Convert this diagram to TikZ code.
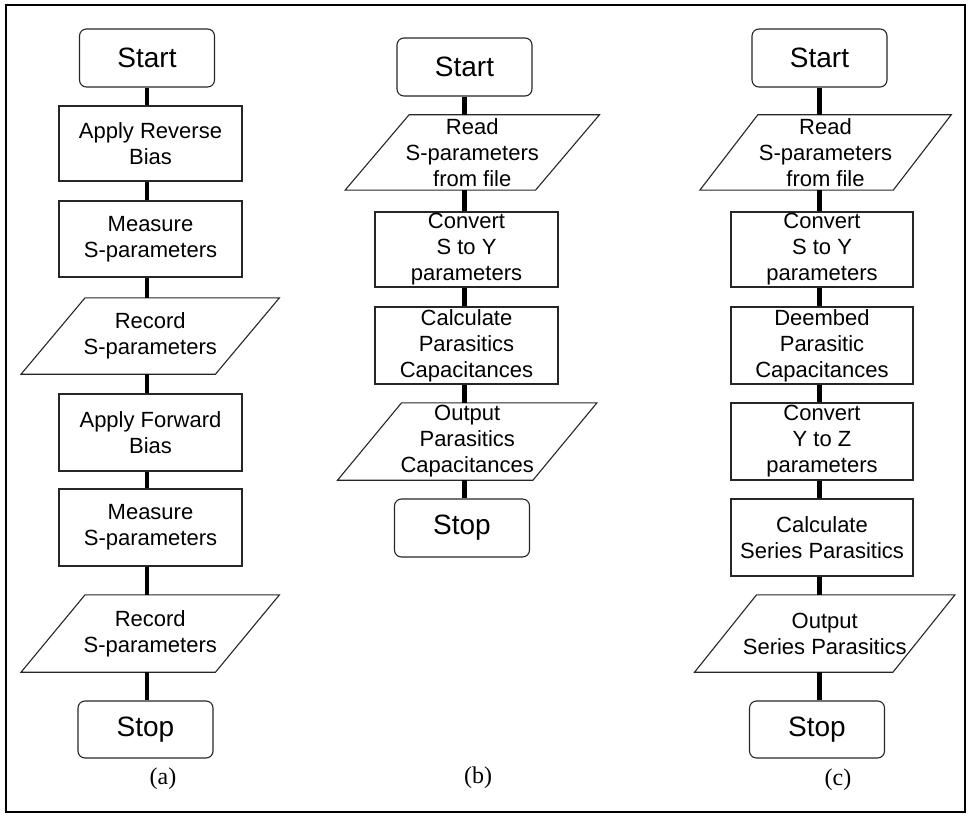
\documentclass[tikz,border=0pt]{standalone}
\usepackage{fontspec}
\setmainfont{Liberation Sans}
\newfontfamily\capfont{Liberation Serif}
\usetikzlibrary{calc}
\newcommand\ioshape[2]{%
  \draw[boxline] ([xshift=#2]#1.north west) -- ([xshift=#2]#1.north east) -- ([xshift=-#2]#1.south east) -- ([xshift=-#2]#1.south west) -- cycle;}
\begin{document}
\begin{tikzpicture}[x=1pt,y=-1pt,
  boxline/.style={line width=1.1pt, draw=black!85},
  term/.style={boxline, rounded corners=7pt, inner sep=0pt, minimum width=135pt, minimum height=58pt, font=\fontsize{28}{30}\selectfont},
  proc/.style={boxline, inner sep=0pt, align=center, minimum width=183pt, minimum height=76pt, font=\fontsize{22}{26}\selectfont},
  io/.style={inner sep=0pt, align=center, minimum width=194pt, minimum height=76pt, font=\fontsize{22}{26}\selectfont},
  link/.style={line width=4.5pt},
  sublabel/.style={font=\capfont\fontsize{24}{26}\selectfont}]
\useasboundingbox (0,0) rectangle (969,821);
\draw[line width=2.5pt] (6,5) rectangle (965,812);

% column (a)
\node[term] (sa) at (147,58) {Start};
\node[proc, minimum height=75pt] (a1) at (150.5,143.5) {Apply Reverse\\Bias};
\node[proc] (a2) at (150.5,239) {Measure\\S-parameters};
\node[io] (a3) at (150.25,336) {Record\\S-parameters};
\ioshape{a3}{32pt}
\node[proc, minimum height=77pt] (a4) at (150.5,432.5) {Apply Forward\\Bias};
\node[proc, minimum height=77pt] (a5) at (150.5,527.5) {Measure\\S-parameters};
\node[io, minimum height=77pt] (a6) at (150.25,633.5) {Record\\S-parameters};
\ioshape{a6}{32pt}
\node[term, minimum height=57pt] (ea) at (145.5,729.5) {Stop};
\node[sublabel] (la) at (163,779) {(a)};
\foreach \u/\v in {sa/a1,a1/a2,a2/a3,a3/a4,a4/a5,a5/a6,a6/ea}
  \draw[link] (\u.south -| sa.south) -- (\v.north -| sa.south);

% column (b)
\node[term] (sb) at (464.5,67) {Start};
\node[io, minimum width=190pt, minimum height=75pt] (b1) at (472.25,152.5) {Read\\S-parameters\\from file};
\ioshape{b1}{32pt}
\node[proc, minimum height=75pt] (b2) at (466.5,249.5) {Convert\\S to Y\\parameters};
\node[proc, minimum height=77pt] (b3) at (466.5,345.5) {Calculate\\Parasitics\\Capacitances};
\node[io, minimum width=195pt, minimum height=77pt] (b4) at (467.25,441.5) {Output\\Parasitics\\Capacitances};
\ioshape{b4}{32pt}
\node[term] (eb) at (462,528) {Stop};
\node[sublabel] (lb) at (478,778) {(b)};
\foreach \u/\v in {sb/b1,b1/b2,b2/b3,b3/b4,b4/eb}
  \draw[link] (\u.south -| sb.south) -- (\v.north -| sb.south);

% column (c)
\node[term] (sc) at (819.5,58) {Start};
\node[io, minimum width=193pt, minimum height=75pt] (c1) at (825.5,152.5) {Read\\S-parameters\\from file};
\ioshape{c1}{29pt}
\node[proc, minimum width=182pt, minimum height=75pt] (c2) at (822,249.5) {Convert\\S to Y\\parameters};
\node[proc, minimum width=182pt, minimum height=77pt] (c3) at (822,345.5) {Deembed\\Parasitic\\Capacitances};
\node[proc, minimum width=182pt, minimum height=77pt] (c4) at (822,441.5) {Convert\\Y to Z\\parameters};
\node[proc, minimum width=182pt, minimum height=77pt] (c5) at (822,537.5) {Calculate\\Series Parasitics};
\node[io, minimum width=198pt, minimum height=77pt] (c6) at (824.75,633.5) {Output\\Series Parasitics};
\ioshape{c6}{31pt}
\node[term, minimum height=57pt] (ec) at (817,729.5) {Stop};
\node[sublabel] (lc) at (838,780) {(c)};
\foreach \u/\v in {sc/c1,c1/c2,c2/c3,c3/c4,c4/c5,c5/c6,c6/ec}
  \draw[link] (\u.south -| sc.south) -- (\v.north -| sc.south);
\end{tikzpicture}
\end{document}
